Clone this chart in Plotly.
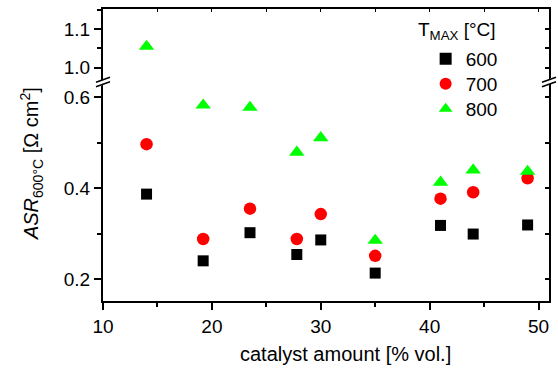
import plotly.graph_objects as go

# ---- data ----
catalyst = [14, 19.2, 23.5, 27.8, 30, 35, 41, 44, 49]
asr_600 = [0.387, 0.240, 0.302, 0.254, 0.286, 0.213, 0.318, 0.299, 0.319]
asr_700 = [0.497, 0.288, 0.355, 0.288, 0.343, 0.251, 0.377, 0.391, 0.422]
asr_800 = [1.055, 0.583, 0.578, 0.479, 0.511, 0.285, 0.413, 0.440, 0.437]
series_names = ["600", "700", "800"]
x_ticks = [10, 20, 30, 40, 50]
y_low_ticks = [0.2, 0.4, 0.6]
y_high_ticks = [1.0, 1.1]

W, H = 558, 369
L, R, T, B = 103, 8.5, 9, 68
PW, PH = W - L - R, H - T - B
BREAK = 0.75            # paper fraction where the axis break sits
LOW_RANGE = [0.1515, 0.634]
HIGH_RANGE = [0.963, 1.152]
FONT = "Liberation Sans, Arial, sans-serif"
FS = 19


def px(xp):
    return (xp - L) / PW


def py(yp):
    return (H - B - yp) / PH


styles = [
    dict(symbol="square", color="#000000", size=11),
    dict(symbol="circle", color="#ff0000", size=12.5),
    dict(symbol="triangle-up", color="#00ff00", size=13.5),
]
legend_ids = ["legend", "legend2", "legend3"]
legend_rows = [59, 84, 109]   # pixel rows of the legend entries

fig = go.Figure()
for name, vals, st, lg in zip(series_names, [asr_600, asr_700, asr_800], styles, legend_ids):
    lo = [(x, v) for x, v in zip(catalyst, vals) if v < 0.8]
    hi = [(x, v) for x, v in zip(catalyst, vals) if v >= 0.8]
    mk = dict(symbol=st["symbol"], color=st["color"], size=st["size"], line=dict(width=0))
    fig.add_trace(go.Scatter(
        x=[p[0] for p in lo], y=[p[1] for p in lo], mode="markers", name=name,
        marker=mk, xaxis="x", yaxis="y", legend=lg, showlegend=True))
    fig.add_trace(go.Scatter(
        x=[p[0] for p in hi], y=[p[1] for p in hi], mode="markers", name=name,
        marker=mk, xaxis="x", yaxis="y2", showlegend=False))

# empty traces so that mirror axes are drawn
fig.add_trace(go.Scatter(x=[], y=[], xaxis="x2", yaxis="y2", showlegend=False))
fig.add_trace(go.Scatter(x=[], y=[], xaxis="x", yaxis="y3", showlegend=False))
fig.add_trace(go.Scatter(x=[], y=[], xaxis="x", yaxis="y4", showlegend=False))

xr = [10, 10 + PW / 10.9]
common = dict(showgrid=False, zeroline=False, linecolor="black", color="black",
              tickfont=dict(family=FONT, size=FS, color="black"))

legend_layout = {}
for lg, row in zip(legend_ids, legend_rows):
    legend_layout[lg] = dict(x=px(426), y=py(row), xanchor="left", yanchor="middle",
                             bgcolor="rgba(0,0,0,0)", borderwidth=0,
                             font=dict(family=FONT, size=FS, color="black"),
                             itemsizing="constant")

fig.update_layout(
    width=W, height=H, margin=dict(l=L, r=R, t=T, b=B, pad=0),
    paper_bgcolor="white", plot_bgcolor="white",
    font=dict(family=FONT, size=FS, color="black"),
    xaxis=dict(range=xr, tickvals=x_ticks, ticks="outside", ticklen=7, tickwidth=2,
               linewidth=2, showline=True, anchor="y",
               minor=dict(dtick=5, tick0=10, ticks="outside", ticklen=4, tickwidth=2, tickcolor="black"),
               **common),
    xaxis2=dict(range=xr, overlaying="x", side="top", anchor="y2", ticks="inside", ticklen=3,
                tickwidth=1, dtick=5, tick0=10, showticklabels=False, linewidth=1.5, showline=True,
                **common),
    yaxis=dict(domain=[0, BREAK], range=LOW_RANGE, tickvals=y_low_ticks, tickformat=".1f",
               ticks="outside", ticklen=7, tickwidth=2, linewidth=2, showline=True, anchor="x",
               minor=dict(dtick=0.1, tick0=0.2, ticks="outside", ticklen=4, tickwidth=2, tickcolor="black"),
               **common),
    yaxis2=dict(domain=[BREAK, 1], range=HIGH_RANGE, tickvals=y_high_ticks, tickformat=".1f",
                ticks="outside", ticklen=7, tickwidth=2, linewidth=2, showline=True, anchor="x",
                minor=dict(dtick=0.05, tick0=1.0, ticks="outside", ticklen=4, tickwidth=2, tickcolor="black"),
                **common),
    yaxis3=dict(range=LOW_RANGE, overlaying="y", side="right", anchor="x", ticks="inside",
                ticklen=4, tickwidth=1.5, dtick=0.1, tick0=0.2, showticklabels=False,
                linewidth=2, showline=True, **common),
    yaxis4=dict(range=HIGH_RANGE, overlaying="y2", side="right", anchor="x", ticks="inside",
                ticklen=4, tickwidth=1.5, dtick=0.05, tick0=1.0, showticklabels=False,
                linewidth=2, showline=True, **common),
    showlegend=True,
    **legend_layout,
)

# legend title
fig.add_annotation(text="T<sub>MAX</sub> [°C]", x=px(498), y=py(31), xref="paper", yref="paper",
                   showarrow=False, font=dict(family=FONT, size=FS, color="black"),
                   xanchor="right", yanchor="middle")

# axis titles
fig.add_annotation(text="catalyst amount [% vol.]", x=px(346), y=py(354), xref="paper", yref="paper",
                   showarrow=False, font=dict(family=FONT, size=20, color="black"),
                   xanchor="center", yanchor="middle")
fig.add_annotation(text="<i>ASR</i><sub>600°C</sub> [Ω cm<sup>2</sup>]", x=px(31), y=py(164),
                   xref="paper", yref="paper", textangle=-90, showarrow=False,
                   font=dict(family=FONT, size=20, color="black"),
                   xanchor="center", yanchor="middle")

# axis break marks
for xc in (103, 549.5):
    fig.add_shape(type="line", xref="paper", yref="paper",
                  x0=px(xc - 5), y0=py(86), x1=px(xc + 5), y1=py(78),
                  line=dict(color="white", width=4))
    for dy in (-2.2, 2.2):
        fig.add_shape(type="line", xref="paper", yref="paper",
                      x0=px(xc - 7), y0=py(84.5 + dy), x1=px(xc + 7), y1=py(79.5 + dy),
                      line=dict(color="black", width=1.5))

fig.write_html("out.html")
